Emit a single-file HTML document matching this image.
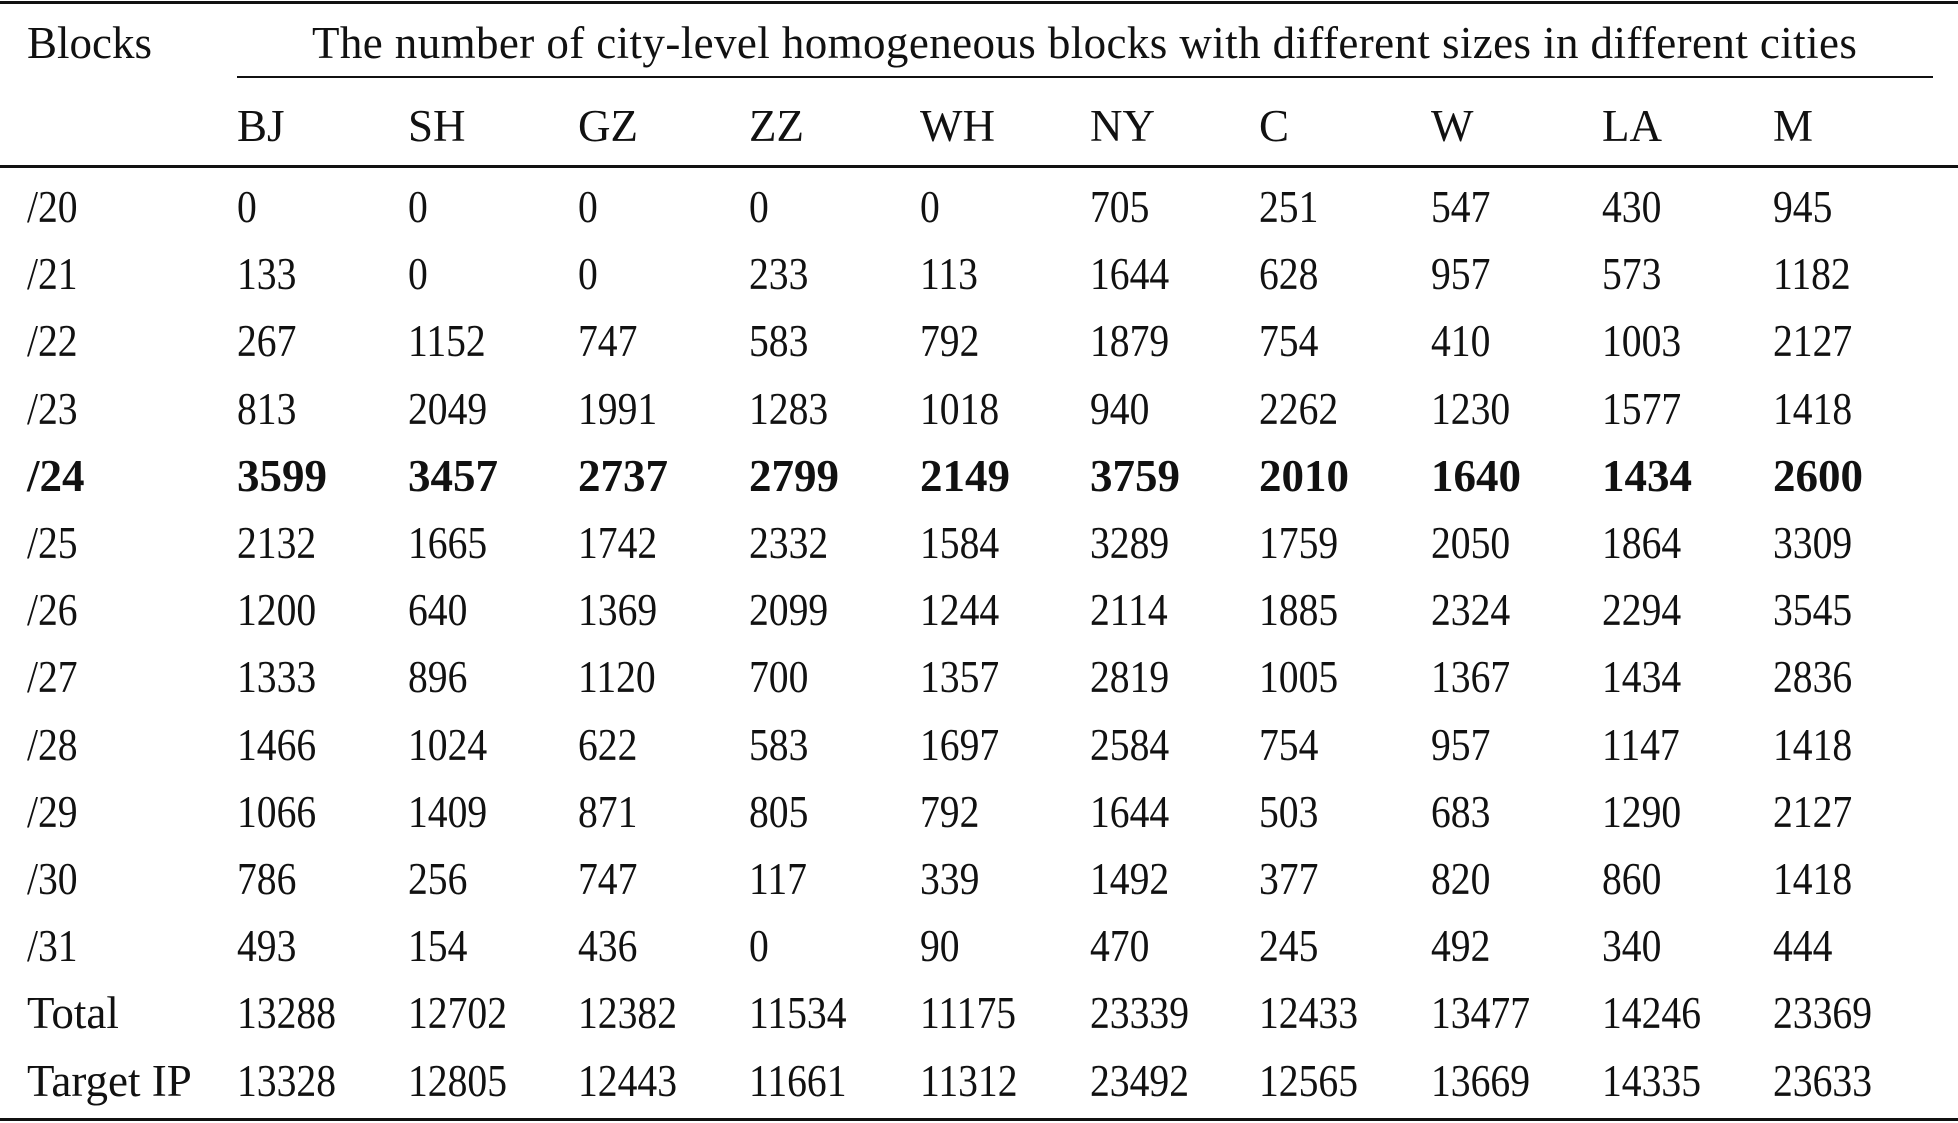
<!DOCTYPE html>
<html><head><meta charset="utf-8"><style>
html,body{margin:0;padding:0;background:#fff;}
body{width:1958px;height:1123px;position:relative;overflow:hidden;font-family:"Liberation Serif",serif;font-size:45px;color:#111;}
.r{position:absolute;left:0;width:1958px;height:67px;line-height:67px;}
.r span{position:absolute;top:0;white-space:nowrap;transform-origin:0 0;}
.r span.n{transform:scaleX(0.88);}
.b span{font-weight:bold;}
.b span.n{transform:none;}
.hl{position:absolute;background:#111;}
</style></head><body>
<div class="hl" style="left:0;top:1px;width:1958px;height:3px"></div>
<div class="hl" style="left:237px;top:76px;width:1696px;height:2px"></div>
<div class="hl" style="left:0;top:165px;width:1958px;height:3px"></div>
<div class="hl" style="left:0;top:1118px;width:1958px;height:3px"></div>
<div class="r" style="top:10px"><span style="left:27px">Blocks</span><span style="left:312px;letter-spacing:0.4px">The number of city-level homogeneous blocks with different sizes in different cities</span></div>
<div class="r" style="top:93px"><span style="left:237px">BJ</span><span style="left:408px">SH</span><span style="left:578px">GZ</span><span style="left:749px">ZZ</span><span style="left:920px">WH</span><span style="left:1090px">NY</span><span style="left:1259px">C</span><span style="left:1431px">W</span><span style="left:1602px">LA</span><span style="left:1773px">M</span></div>
<div id="rows"></div>
<script>
var d=[["/20",0,0,0,0,0,705,251,547,430,945],["/21",133,0,0,233,113,1644,628,957,573,1182],["/22",267,1152,747,583,792,1879,754,410,1003,2127],["/23",813,2049,1991,1283,1018,940,2262,1230,1577,1418],["/24",3599,3457,2737,2799,2149,3759,2010,1640,1434,2600],["/25",2132,1665,1742,2332,1584,3289,1759,2050,1864,3309],["/26",1200,640,1369,2099,1244,2114,1885,2324,2294,3545],["/27",1333,896,1120,700,1357,2819,1005,1367,1434,2836],["/28",1466,1024,622,583,1697,2584,754,957,1147,1418],["/29",1066,1409,871,805,792,1644,503,683,1290,2127],["/30",786,256,747,117,339,1492,377,820,860,1418],["/31",493,154,436,0,90,470,245,492,340,444],["Total",13288,12702,12382,11534,11175,23339,12433,13477,14246,23369],["Target IP",13328,12805,12443,11661,11312,23492,12565,13669,14335,23633]];
var xs=[27,237,408,578,749,920,1090,1259,1431,1602,1773],h="";
d.forEach(function(r,i){var t=174+67.2*i;h+='<div class="r'+(i==4?' b':'')+'" style="top:'+t+'px">';r.forEach(function(v,j){var n=(j>0||String(v).charAt(0)=="/")?' class="n"':'';h+='<span'+n+' style="left:'+xs[j]+'px">'+v+'</span>';});h+='</div>';});
document.getElementById("rows").innerHTML=h;
</script>
</body></html>
